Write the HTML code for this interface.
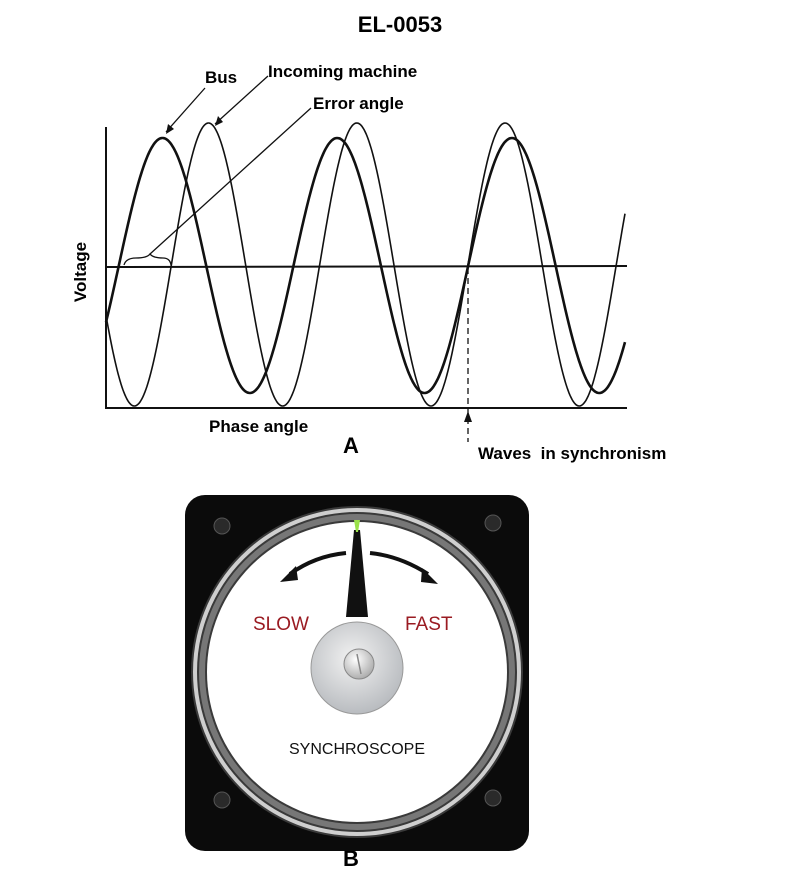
<!DOCTYPE html>
<html><head><meta charset="utf-8"><style>
html,body{margin:0;padding:0;background:#fff;}
svg{display:block;}
</style></head><body>
<svg width="800" height="880" viewBox="0 0 800 880" xmlns="http://www.w3.org/2000/svg">
<defs>
<radialGradient id="hub" cx="45%" cy="40%" r="60%"><stop offset="0" stop-color="#f2f2f2"/><stop offset="1" stop-color="#b9bcc0"/></radialGradient>
<radialGradient id="knob" cx="40%" cy="35%" r="70%"><stop offset="0" stop-color="#ffffff"/><stop offset="1" stop-color="#a8a8a8"/></radialGradient>
</defs>
<g font-family="Liberation Sans, Arial, sans-serif" font-weight="bold" fill="#000">
<text x="400" y="32" font-size="22" text-anchor="middle">EL-0053</text>
<text x="205" y="83" font-size="17">Bus</text>
<text x="268" y="77" font-size="17">Incoming machine</text>
<text x="313" y="109" font-size="17">Error angle</text>
<text transform="translate(86,272) rotate(-90)" font-size="17" text-anchor="middle">Voltage</text>
<text x="209" y="432" font-size="17">Phase angle</text>
<text x="343" y="453" font-size="22">A</text>
<text x="478" y="459" font-size="17">Waves&#160; in synchronism</text>
<text x="343" y="866" font-size="22">B</text>
</g>
<g stroke="#111" fill="none">
<line x1="106" y1="127" x2="106" y2="409" stroke-width="2"/>
<line x1="106" y1="408" x2="627" y2="408" stroke-width="2"/>
<line x1="106" y1="267" x2="627" y2="266" stroke-width="2"/>
<path id="bus" stroke-width="2.6" d=""/>
<path id="inc" stroke-width="1.6" d=""/>
<line x1="468" y1="268" x2="468" y2="442" stroke-width="1.3" stroke-dasharray="6,4"/>
<line x1="205" y1="88" x2="166" y2="132" stroke-width="1.3"/>
<line x1="268" y1="76" x2="215" y2="124" stroke-width="1.3"/>
<line x1="311" y1="108" x2="150" y2="254" stroke-width="1.3"/>
<path d="M124,265 Q126,258 136,258 Q147,258 150,254 Q153,258 163,258 Q170,258 171,265" stroke-width="1.3"/>
</g>
<polygon points="166,134 168,124 174,129" fill="#111"/>
<polygon points="215,126 218,116 223,122" fill="#111"/>
<polygon points="468,411 464,422 472,422" fill="#111"/>
<script>
function wave(id,peak,per,amp,c){var d="";for(var x=106;x<=625;x+=1){var y=c-amp*Math.cos((x-peak)/per*2*Math.PI);d+=(x==106?"M":"L")+x+","+y.toFixed(1);}document.getElementById(id).setAttribute("d",d);}
wave("bus",162.5,174.7,127.5,265.5);wave("inc",208.5,148.3,141.5,264.5);
</script>
<!-- synchroscope -->
<rect x="185" y="495" width="344" height="356" rx="20" fill="#0b0b0b"/>
<g fill="#2a2a2a" stroke="#555" stroke-width="1">
<circle cx="222" cy="526" r="8"/><circle cx="493" cy="523" r="8"/>
<circle cx="222" cy="800" r="8"/><circle cx="493" cy="798" r="8"/>
</g>
<circle cx="357" cy="672" r="166" fill="#3a3a3a"/>
<circle cx="357" cy="672" r="162" fill="none" stroke="#cfcfcf" stroke-width="4"/>
<circle cx="357" cy="672" r="155" fill="none" stroke="#777" stroke-width="6"/>
<circle cx="357" cy="672" r="150" fill="#fff"/>
<path d="M346,553 Q315,556 290,574" stroke="#111" stroke-width="4" fill="none"/>
<polygon points="280,582 296,566 298,580" fill="#111"/>
<path d="M370,553 Q400,556 428,574" stroke="#111" stroke-width="4" fill="none"/>
<polygon points="438,584 422,568 421,582" fill="#111"/>
<polygon points="354,530 360,530 368,617 346,617" fill="#111"/>
<polygon points="354,520 360,520 358,532 356,532" fill="#9be24a"/>
<g font-family="Liberation Sans, Arial, sans-serif" font-size="19">
<text x="253" y="630" fill="#9a1b22">SLOW</text>
<text x="405" y="630" fill="#9a1b22">FAST</text>
<text x="357" y="754" font-size="16" text-anchor="middle" fill="#111">SYNCHROSCOPE</text>
</g>
<circle cx="357" cy="668" r="46" fill="url(#hub)" stroke="#999"/>
<circle cx="359" cy="664" r="15" fill="url(#knob)" stroke="#888"/>
<line x1="357" y1="654" x2="361" y2="674" stroke="#888" stroke-width="1.5"/>
</svg>
</body></html>
